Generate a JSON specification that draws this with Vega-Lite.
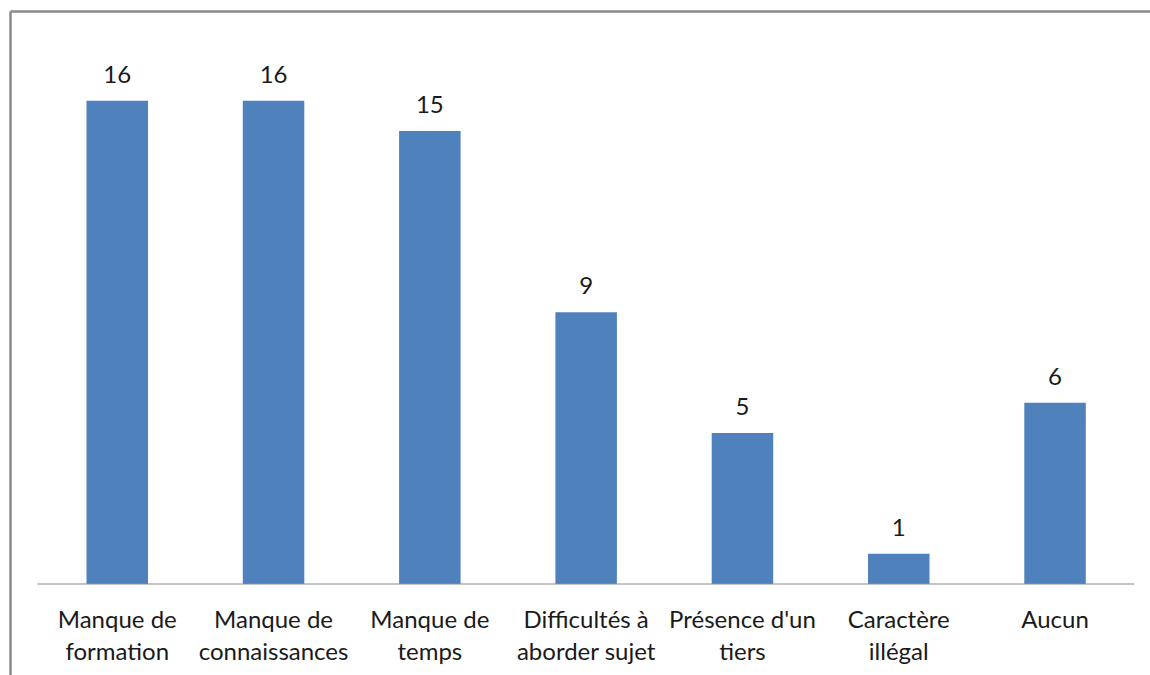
{
  "$schema": "https://vega.github.io/schema/vega-lite/v6.json",
  "width": 1140,
  "height": 664,
  "autosize": {"type": "none"},
  "padding": {"left": 10, "top": 11, "right": 0, "bottom": 0},
  "background": "white",
  "config": {
    "view": {"stroke": null},
    "font": "Lato"
  },
  "data": {
    "values": [
      {"cat": "Manque de formation", "label": "Manque de|formation", "value": 16},
      {"cat": "Manque de connaissances", "label": "Manque de|connaissances", "value": 16},
      {"cat": "Manque de temps", "label": "Manque de|temps", "value": 15},
      {"cat": "Difficultés à aborder sujet", "label": "Difficultés à|aborder sujet", "value": 9},
      {"cat": "Présence d'un tiers", "label": "Présence d'un|tiers", "value": 5},
      {"cat": "Caractère illégal", "label": "Caractère|illégal", "value": 1},
      {"cat": "Aucun", "label": "Aucun", "value": 6}
    ]
  },
  "layer": [
    {
      "encoding": {
        "x": {
          "field": "cat", "type": "nominal", "sort": null,
          "scale": {"paddingInner": 0.6065, "paddingOuter": 0.4501, "align": 0.5437},
          "axis": {"orient": "top", "labels": false, "ticks": false, "title": null, "domainColor": "#8a8a8a", "domainWidth": 2.5, "grid": false}
        }
      },
      "layer": [
        {
          "mark": {"type": "bar", "color": "#4f81bd"},
          "encoding": {
            "y": {
              "field": "value", "type": "quantitative",
              "scale": {"domain": [-3.013, 18.974], "nice": false, "zero": false},
              "axis": {"labels": false, "ticks": false, "title": null, "domainColor": "#8a8a8a", "domainWidth": 2.5, "grid": false}
            }
          }
        },
        {
          "mark": {"type": "text", "baseline": "alphabetic", "dy": -18, "fontSize": 24, "color": "#1a1a1a"},
          "encoding": {
            "y": {"field": "value", "type": "quantitative"},
            "text": {"field": "value", "type": "quantitative"}
          }
        },
        {
          "mark": {"type": "text", "baseline": "alphabetic", "dy": 44, "fontSize": 24, "lineHeight": 32, "lineBreak": "|", "color": "#1a1a1a"},
          "encoding": {
            "y": {"datum": 0, "type": "quantitative"},
            "text": {"field": "label", "type": "nominal"}
          }
        }
      ]
    },
    {
      "data": {"values": [{"start": 0, "end": 1, "base": 0}]},
      "mark": {"type": "rule", "color": "#8a8a8a", "strokeWidth": 1},
      "encoding": {
        "x": {"field": "start", "type": "quantitative", "scale": {"domain": [-0.02489, 1.01431], "nice": false, "zero": false}, "axis": null},
        "x2": {"field": "end"},
        "y": {"field": "base", "type": "quantitative"}
      }
    }
  ],
  "resolve": {"scale": {"x": "independent"}, "axis": {"x": "independent"}}
}
